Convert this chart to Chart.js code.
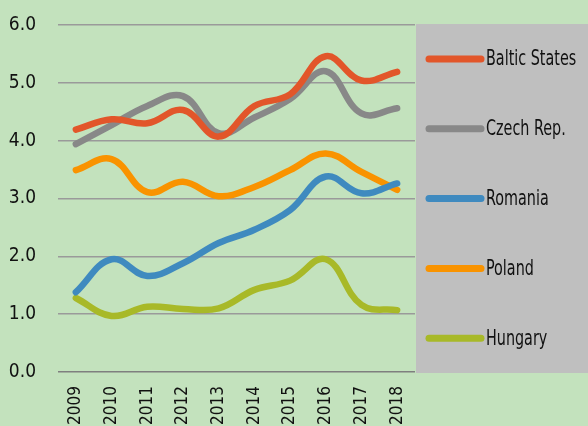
<!DOCTYPE html>
<html><head><meta charset="utf-8">
<script src="https://cdn.jsdelivr.net/npm/chart.js@4/dist/chart.umd.min.js"></script>
<style>html,body{margin:0;padding:0;background:#c3e2bd;}#wrap{width:588px;height:426px;}</style>
</head><body><div id="wrap"><canvas id="c" width="588" height="426"></canvas></div>
<script>
const years = ['2009','2010','2011','2012','2013','2014','2015','2016','2017','2018'];
const seriesNames = ['Baltic States','Czech Rep.','Romania','Poland','Hungary'];
const baltic  = [4.19, 4.37, 4.30, 4.53, 4.07, 4.60, 4.80, 5.46, 5.04, 5.19];
const czech   = [3.94, 4.27, 4.60, 4.77, 4.13, 4.40, 4.72, 5.20, 4.47, 4.56];
const romania = [1.38, 1.95, 1.66, 1.88, 2.23, 2.46, 2.80, 3.38, 3.09, 3.26];
const poland  = [3.49, 3.68, 3.11, 3.29, 3.04, 3.20, 3.49, 3.78, 3.46, 3.15];
const hungary = [1.28, 0.97, 1.13, 1.09, 1.10, 1.42, 1.58, 1.95, 1.16, 1.07];
const yTicks = [0, 1, 2, 3, 4, 5, 6];
const colors = ['#e2562a', '#888888', '#3f8abf', '#f99300', '#a8b928'];
const FONT = "'DejaVu Sans Condensed', 'DejaVu Sans', sans-serif";

const bgPlugin = {
  id: 'bg',
  beforeDraw(chart) {
    const ctx = chart.ctx;
    ctx.save();
    ctx.fillStyle = '#c3e2bd';
    ctx.fillRect(0, 0, chart.width, chart.height);
    const a = chart.chartArea;
    ctx.fillStyle = '#bfbfbf';
    ctx.fillRect(a.right + 1, a.top - 1, chart.width - a.right - 1, a.bottom - a.top + 2);
    ctx.restore();
  },
  afterDraw(chart) {
    const ctx = chart.ctx;
    const a = chart.chartArea;
    ctx.save();
    ctx.textBaseline = 'middle';
    ctx.lineCap = 'round';
    chart.data.datasets.forEach((ds, i) => {
      const y = a.top + 34 + i * 69.8;
      ctx.strokeStyle = ds.borderColor;
      ctx.lineWidth = 7;
      ctx.beginPath();
      ctx.moveTo(a.right + 14, y);
      ctx.lineTo(a.right + 66, y);
      ctx.stroke();
      ctx.save();
      ctx.translate(a.right + 71, y + 1);
      ctx.scale(0.76, 1);
      ctx.font = 'condensed 21px ' + FONT;
      ctx.fillStyle = '#111';
      ctx.fillText(ds.label, 0, 0);
      ctx.restore();
    });
    ctx.restore();
  }
};

const allSeries = [baltic, czech, romania, poland, hungary];
new Chart(document.getElementById('c'), {
  type: 'line',
  data: {
    labels: years,
    datasets: allSeries.map((d, i) => ({
      label: seriesNames[i],
      data: d,
      borderColor: colors[i],
      backgroundColor: colors[i],
      borderWidth: 6.5,
      pointRadius: 0,
      tension: 0.4,
      borderCapStyle: 'round',
      fill: false
    }))
  },
  options: {
    responsive: false,
    animation: false,
    devicePixelRatio: 1,
    layout: { padding: { top: 25, right: 173, left: 0, bottom: 0 } },
    plugins: { legend: { display: false }, tooltip: { enabled: false } },
    scales: {
      x: {
        offset: true,
        grid: { display: false, drawTicks: false },
        border: { display: false },
        ticks: {
          color: '#111',
          font: { family: FONT, size: 17, style: 'condensed' },
          minRotation: 90, maxRotation: 90,
          padding: 14,
          autoSkip: false
        },
        afterFit(s) { s.height = 54; }
      },
      y: {
        min: 0, max: 6,
        afterBuildTicks(s) { s.ticks = yTicks.map(v => ({ value: v })); },
        grid: {
          color: (c) => c.tick && c.tick.value === 0 ? '#7f7f7f' : '#9a9a9a',
          lineWidth: 1.5,
          drawTicks: true,
          tickLength: 22,
          tickColor: 'rgba(0,0,0,0)'
        },
        border: { display: false },
        ticks: {
          color: '#111',
          font: { family: FONT, size: 19, style: 'condensed' },
          padding: 0,
          callback: (v) => Number(v).toFixed(1)
        },
        afterFit(s) { s.width = 58; }
      }
    }
  },
  plugins: [bgPlugin]
});
</script></body></html>
